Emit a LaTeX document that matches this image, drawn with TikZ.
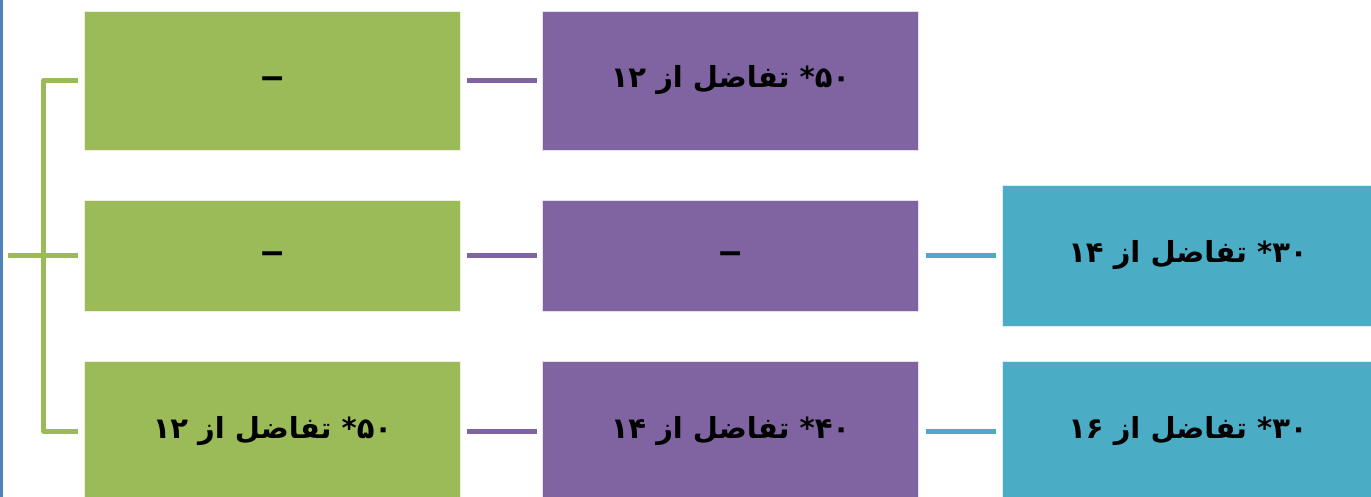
\documentclass[tikz,border=0pt]{standalone}
\usepackage{fontspec}
\TeXXeTstate=1
\newfontfamily\arabicfont[Script=Arabic]{DejaVu Sans}
\newfontfamily\dashfont{Liberation Sans}
\definecolor{gboxc}{HTML}{9BBB59}
\definecolor{pboxc}{HTML}{8064A2}
\definecolor{bboxc}{HTML}{4BACC6}
\definecolor{edgec}{HTML}{4F81BD}
\newcommand{\fa}[1]{\beginR #1\endR}
\newcommand{\dsh}{\smash{\raisebox{-9pt}{\dashfont\bfseries\fontsize{40}{40}\selectfont –}}}
\tikzset{
  boxbase/.style={draw=white!80!#1, line width=0.8pt, fill=#1, minimum width=376pt, inner sep=0pt,
    font=\arabicfont\bfseries\fontsize{29}{34}\selectfont, text=black},
  gbox/.style={boxbase=gboxc},
  pbox/.style={boxbase=pboxc},
  bbox/.style={boxbase=bboxc, minimum width=372pt},
  gline/.style={draw=gboxc, line width=5pt},
  pline/.style={draw=pboxc, line width=5pt},
  bline/.style={draw=bboxc, line width=5pt},
}
\begin{document}
\begin{tikzpicture}[x=1pt,y=-1pt]
\useasboundingbox (0,0) rectangle (1371,497);
\fill[edgec] (0,0) rectangle (2.7,497);
% green column
\node[gbox, minimum height=139pt] (g1) at (272.5,80.5) {\dsh};
\node[gbox, minimum height=111pt] (g2) at (272.5,255.5) {\dsh};
\node[gbox, minimum height=140pt] (g3) at (272.5,431) {\fa{۵۰* تفاضل از ۱۲}};
% purple column
\node[pbox, minimum height=139pt] (p1) at (730.5,80.5) {\fa{۵۰* تفاضل از ۱۲}};
\node[pbox, minimum height=111pt] (p2) at (730.5,255.5) {\dsh};
\node[pbox, minimum height=140pt] (p3) at (730.5,431) {\fa{۴۰* تفاضل از ۱۴}};
% blue column
\node[bbox, minimum height=141pt] (b1) at (1188,255.5) {\fa{۳۰* تفاضل از ۱۴}};
\node[bbox, minimum height=140pt] (b2) at (1188,431) {\fa{۳۰* تفاضل از ۱۶}};
% bracket
\coordinate (stub) at (8,255.5);
\coordinate (bx) at (43.5,0);
\draw[gline, line join=round] ([xshift=-6pt]g1.west) -- (bx |- g1.west) -- (bx |- g3.west) -- ([xshift=-6pt]g3.west);
\draw[gline] (stub) -- ([xshift=-6pt]g2.west);
% purple connectors
\draw[pline] ([xshift=6pt]g1.east) -- ([xshift=-5pt]p1.west);
\draw[pline] ([xshift=6pt]g2.east) -- ([xshift=-5pt]p2.west);
\draw[pline] ([xshift=6pt]g3.east) -- ([xshift=-5pt]p3.west);
% blue connectors
\draw[bline] ([xshift=7pt]p2.east) -- ([xshift=-6pt]b1.west);
\draw[bline] ([xshift=7pt]p3.east) -- ([xshift=-6pt]b2.west);
\end{tikzpicture}
\end{document}
